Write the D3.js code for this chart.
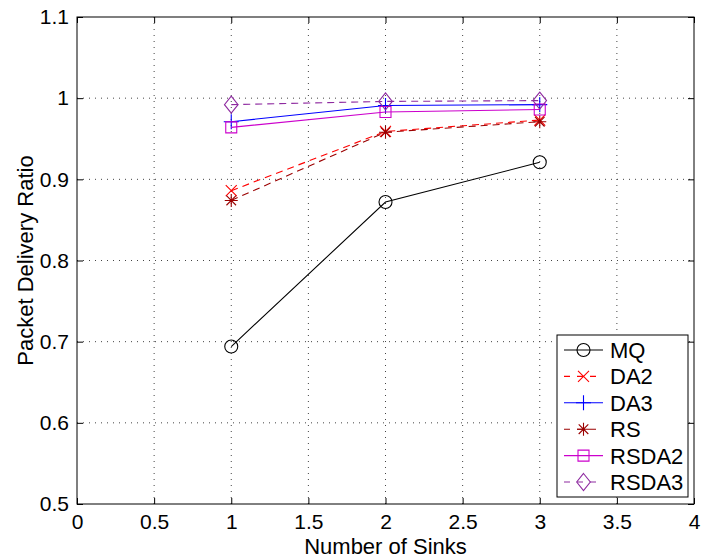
<!DOCTYPE html>
<html>
<head>
<meta charset="utf-8">
<script src="https://cdn.jsdelivr.net/npm/d3@7"></script>
<style>
  html, body { margin: 0; padding: 0; background: #fff; }
  svg { display: block; font-family: "Liberation Sans", Arial, Helvetica, sans-serif; }
</style>
</head>
<body>
<svg id="chart" width="702" height="560"></svg>
<script>
// Number of sinks on the x axis
const sinks = [1, 2, 3];

// Packet delivery ratio per protocol
const seriesNames = ["MQ", "DA2", "DA3", "RS", "RSDA2", "RSDA3"];
const mq    = [0.694, 0.872, 0.921];
const da2   = [0.886, 0.959, 0.973];
const da3   = [0.971, 0.991, 0.992];
const rs    = [0.874, 0.958, 0.971];
const rsda2 = [0.964, 0.983, 0.986];
const rsda3 = [0.992, 0.996, 0.997];

// Axis ticks
const xTicks = [0, 0.5, 1, 1.5, 2, 2.5, 3, 3.5, 4];
const xTickLabels = ["0", "0.5", "1", "1.5", "2", "2.5", "3", "3.5", "4"];
const yTicks = [0.5, 0.6, 0.7, 0.8, 0.9, 1.0, 1.1];
const yTickLabels = ["0.5", "0.6", "0.7", "0.8", "0.9", "1", "1.1"];

const seriesValues = [mq, da2, da3, rs, rsda2, rsda3];
const styles = [
  { color: "#000000", dash: null,  marker: "circle"  },
  { color: "#ff0000", dash: "7,5", marker: "x"       },
  { color: "#0000ff", dash: null,  marker: "plus"    },
  { color: "#9b0000", dash: "7,5", marker: "star"    },
  { color: "#cc00cc", dash: null,  marker: "square"  },
  { color: "#8e2aa0", dash: "7,5", marker: "diamond" }
];

const svg = d3.select("#chart");
const L = 77, R = 694, T = 17, B = 504;

const x = d3.scaleLinear().domain([0, 4]).range([L, R]);
const y = d3.scaleLinear().domain([0.5, 1.1]).range([B, T]);

// Grid (dotted)
const grid = svg.append("g");
xTicks.slice(1, -1).forEach(t => {
  grid.append("line").attr("x1", x(t)).attr("x2", x(t)).attr("y1", B).attr("y2", T)
    .attr("stroke", "#444").attr("stroke-width", 1).attr("stroke-dasharray", "1,5");
});
yTicks.slice(1, -1).forEach(t => {
  grid.append("line").attr("x1", L).attr("x2", R).attr("y1", y(t)).attr("y2", y(t))
    .attr("stroke", "#444").attr("stroke-width", 1).attr("stroke-dasharray", "1,5");
});

// Axes with inward ticks on all four sides
const tickLen = 6;
const fmtX = (d, i) => xTickLabels[i];
const fmtY = (d, i) => yTickLabels[i];

const axB = svg.append("g").attr("transform", `translate(0,${B})`)
  .call(d3.axisBottom(x).tickValues(xTicks).tickFormat(fmtX).tickSizeInner(-tickLen).tickSizeOuter(0).tickPadding(10));
const axL = svg.append("g").attr("transform", `translate(${L},0)`)
  .call(d3.axisLeft(y).tickValues(yTicks).tickFormat(fmtY).tickSizeInner(-tickLen).tickSizeOuter(0).tickPadding(8));
const axT = svg.append("g").attr("transform", `translate(0,${T})`)
  .call(d3.axisTop(x).tickValues(xTicks).tickFormat("").tickSizeInner(-tickLen).tickSizeOuter(0));
const axR = svg.append("g").attr("transform", `translate(${R},0)`)
  .call(d3.axisRight(y).tickValues(yTicks).tickFormat("").tickSizeInner(-tickLen).tickSizeOuter(0));

[axB, axL, axT, axR].forEach(a => {
  a.select(".domain").remove();
  a.selectAll("line").attr("stroke", "#000");
  a.selectAll("text").attr("fill", "#000").attr("font-size", 21)
    .attr("font-family", "'Liberation Sans', Arial, sans-serif");
});

// Frame
svg.append("rect").attr("x", L).attr("y", T).attr("width", R - L).attr("height", B - T)
  .attr("fill", "none").attr("stroke", "#000").attr("stroke-width", 1);

// Axis titles
svg.append("text").attr("x", (L + R) / 2).attr("y", 554).attr("text-anchor", "middle")
  .attr("font-size", 22).attr("fill", "#000").text("Number of Sinks");
svg.append("text").attr("transform", `translate(33,${(T + B) / 2}) rotate(-90)`)
  .attr("text-anchor", "middle").attr("font-size", 22).attr("fill", "#000").text("Packet Delivery Ratio");

// Marker shapes
function markerPath(type, cx, cy) {
  const p = d3.path();
  if (type === "circle") {
    p.moveTo(cx + 6.5, cy); p.arc(cx, cy, 6.5, 0, 2 * Math.PI);
  } else if (type === "x") {
    const s = 5.5;
    p.moveTo(cx - s, cy - s); p.lineTo(cx + s, cy + s);
    p.moveTo(cx - s, cy + s); p.lineTo(cx + s, cy - s);
  } else if (type === "plus") {
    const s = 7.5;
    p.moveTo(cx - s, cy); p.lineTo(cx + s, cy);
    p.moveTo(cx, cy - s); p.lineTo(cx, cy + s);
  } else if (type === "star") {
    const s = 6.5, d = 4.8;
    p.moveTo(cx - s, cy); p.lineTo(cx + s, cy);
    p.moveTo(cx, cy - s); p.lineTo(cx, cy + s);
    p.moveTo(cx - d, cy - d); p.lineTo(cx + d, cy + d);
    p.moveTo(cx - d, cy + d); p.lineTo(cx + d, cy - d);
  } else if (type === "square") {
    const s = 5.5;
    p.rect(cx - s, cy - s, 2 * s, 2 * s);
  } else if (type === "diamond") {
    const w = 6.8, h = 8.5;
    p.moveTo(cx, cy - h); p.lineTo(cx + w, cy); p.lineTo(cx, cy + h); p.lineTo(cx - w, cy); p.closePath();
  }
  return p.toString();
}

// Series lines and markers
const line = d3.line().x((d, i) => x(sinks[i])).y(d => y(d));
const plot = svg.append("g");
seriesValues.forEach((vals, k) => {
  const st = styles[k];
  plot.append("path").datum(vals).attr("d", line).attr("fill", "none")
    .attr("stroke", st.color).attr("stroke-width", 1.1)
    .attr("stroke-dasharray", st.dash);
  plot.selectAll(null).data(vals).enter().append("path")
    .attr("d", (d, i) => markerPath(st.marker, x(sinks[i]), y(d)))
    .attr("fill", "none").attr("stroke", st.color).attr("stroke-width", 1.1);
});

// Legend
const lg = svg.append("g");
const lgX = 557, lgY = 335, lgW = 131, lgH = 162;
lg.append("rect").attr("x", lgX).attr("y", lgY).attr("width", lgW).attr("height", lgH)
  .attr("fill", "#fff").attr("stroke", "#000").attr("stroke-width", 1);
seriesNames.forEach((name, k) => {
  const st = styles[k];
  const ly = 350 + k * 26.4;
  lg.append("line").attr("x1", 564).attr("x2", 603).attr("y1", ly).attr("y2", ly)
    .attr("stroke", st.color).attr("stroke-width", 1.1)
    .attr("stroke-dasharray", st.dash ? "6,7" : null);
  lg.append("path").attr("d", markerPath(st.marker, 583.5, ly))
    .attr("fill", "none").attr("stroke", st.color).attr("stroke-width", 1.1);
  lg.append("text").attr("x", 610).attr("y", ly).attr("dy", "0.36em")
    .attr("font-size", 22).attr("fill", "#000").text(name);
});
</script>
</body>
</html>
